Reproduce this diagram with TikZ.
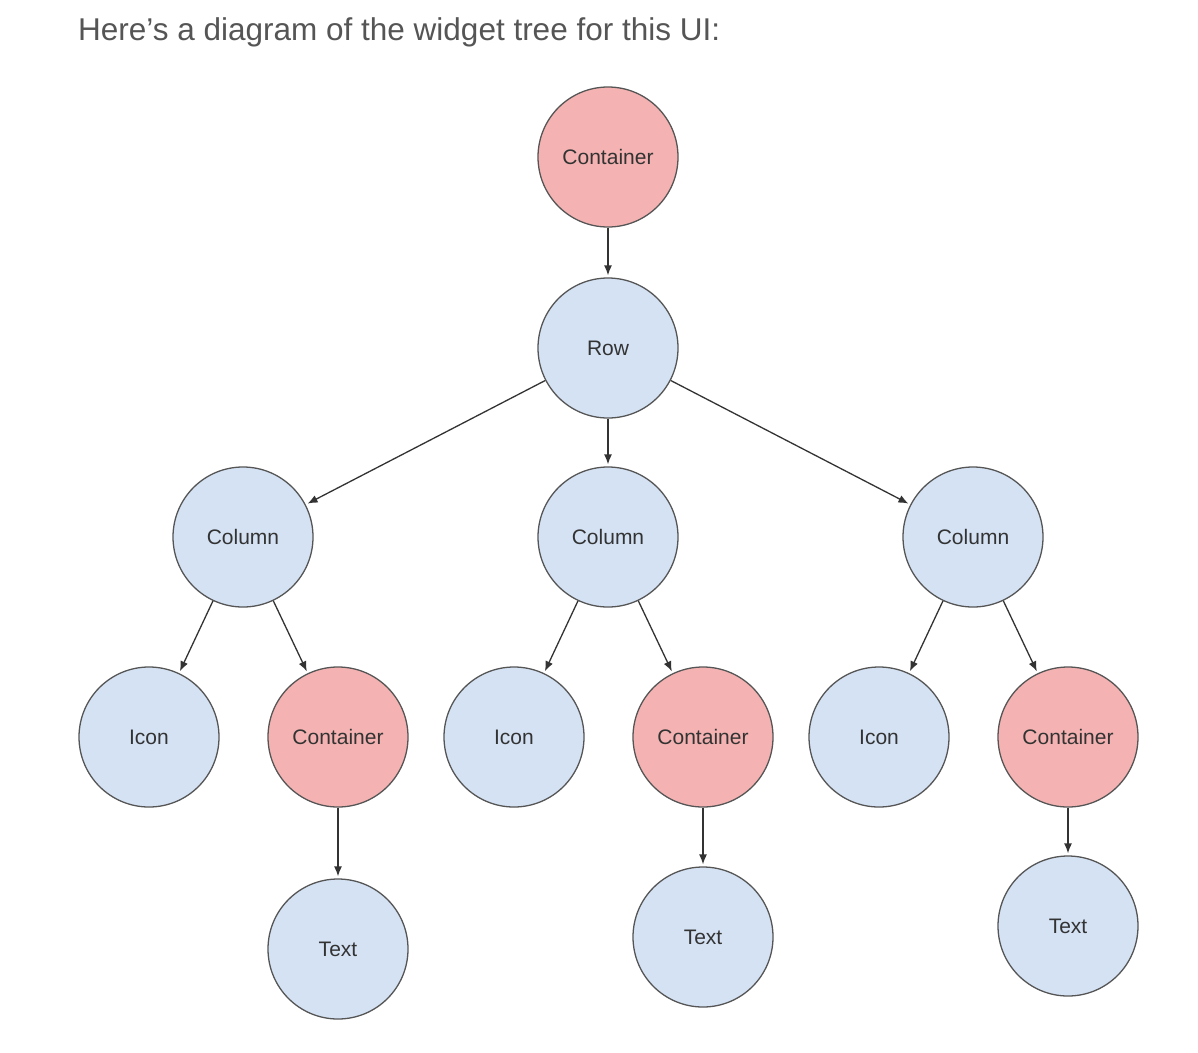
\documentclass[tikz,border=0pt]{standalone}
\usepackage{fontspec}
\setmainfont{Liberation Sans}
\usetikzlibrary{arrows.meta}
\definecolor{boxred}{HTML}{F4B3B2}
\definecolor{boxblue}{HTML}{D4E2F4}
\definecolor{edgegray}{HTML}{555555}
\definecolor{labelgray}{HTML}{333333}
\definecolor{titlegray}{HTML}{555555}

\begin{document}
\begin{tikzpicture}[>={Latex[length=10pt,width=8pt]}, x=1pt, y=-1pt,
    widget/.style={circle, draw=edgegray, line width=1.3pt, minimum size=140pt,
      inner sep=0pt, text=labelgray, font=\fontsize{21}{25}\selectfont},
    redw/.style={widget, fill=boxred},
    bluew/.style={widget, fill=boxblue},
    link/.style={->, draw=labelgray, line width=1.3pt, shorten >=2pt}]
  \useasboundingbox (0,0) rectangle (1198,1052);
  \node[anchor=base west, inner sep=0pt, text=titlegray,
    font=\fontsize{31.5}{36}\selectfont] (title) at (78,40)
    {Here’s a diagram of the widget tree for this UI:};

  \node[redw] (top) at (608,157) {Container};
  \node[bluew] (row) at (608,348) {Row};
  \draw[link] (top) -- (row);

  % one column subtree each
  \foreach \n/\cx/\ty in {1/243/949, 2/608/937, 3/973/926} {
    \node[bluew] (col\n) at (\cx,537) {Column};
    \node[bluew] (icon\n) at ({\cx-94},737) {Icon};
    \node[redw] (cont\n) at ({\cx+95},737) {Container};
    \node[bluew] (text\n) at ({\cx+95},\ty) {Text};
    \draw[link] (row) -- (col\n);
    \draw[link] (col\n) -- (icon\n);
    \draw[link] (col\n) -- (cont\n);
    \draw[link] (cont\n) -- (text\n);
  }
\end{tikzpicture}
\end{document}
